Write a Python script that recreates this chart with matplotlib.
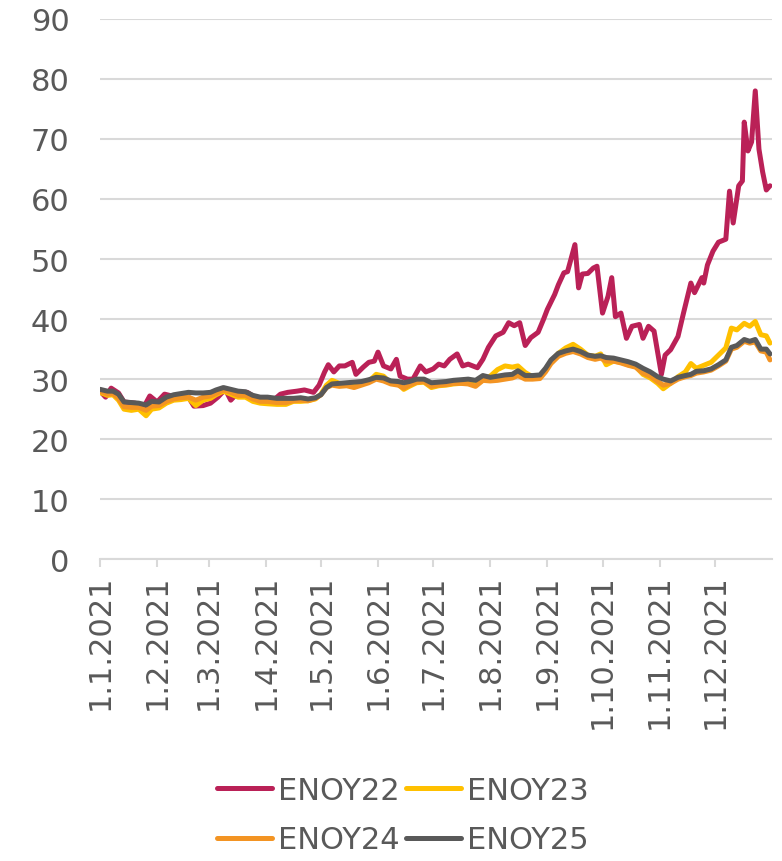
import matplotlib
matplotlib.use("Agg")
import matplotlib.pyplot as plt
import matplotlib.dates as mdates
import matplotlib.ticker as mticker
import pandas as pd

# ENOY22 (own date list, more points around the spikes)
enoy22_dates = [
    "01-01", "01-04", "01-07", "01-11", "01-14", "01-20", "01-25", "01-28",
    "02-01", "02-05", "02-09", "02-14", "02-18", "02-21", "02-26",
    "03-02", "03-06", "03-10", "03-13", "03-17", "03-22", "03-26", "03-31",
    "04-06", "04-09", "04-13", "04-18", "04-22", "04-27", "04-30",
    "05-03", "05-05", "05-08", "05-11", "05-14", "05-18", "05-20", "05-24", "05-27", "05-30",
    "06-01", "06-04", "06-08", "06-11", "06-13", "06-17", "06-20", "06-24", "06-27",
    "07-01", "07-04", "07-07", "07-10", "07-14", "07-17", "07-20", "07-25", "07-28", "07-31",
    "08-04", "08-08", "08-11", "08-14", "08-17", "08-20", "08-23", "08-27", "08-30",
    "09-01", "09-05", "09-07", "09-10", "09-12", "09-16", "09-18", "09-20", "09-23", "09-26", "09-28",
    "10-01", "10-04", "10-06", "10-08", "10-11", "10-14", "10-17", "10-21", "10-23", "10-26", "10-29",
    "11-02", "11-04", "11-07", "11-11", "11-14", "11-18", "11-20", "11-24", "11-25", "11-27", "11-30",
    "12-03", "12-07", "12-09", "12-11", "12-14", "12-16", "12-17", "12-19", "12-21", "12-23",
    "12-25", "12-27", "12-29", "12-31",
]
enoy22 = [
    28.0, 27.0, 28.5, 27.7, 26.2, 26.0, 25.5, 27.2,
    26.2, 27.5, 27.2, 27.4, 27.0, 25.5, 25.6,
    26.0, 27.0, 28.3, 26.5, 27.8, 27.8, 27.0, 26.8,
    26.7, 27.5, 27.8, 28.0, 28.2, 27.8, 29.0,
    31.2, 32.4, 31.2, 32.2, 32.2, 32.8, 30.8, 32.0, 32.8, 33.0,
    34.5, 32.2, 31.7, 33.3, 30.5, 30.0, 30.0, 32.2, 31.2,
    31.7, 32.5, 32.2, 33.3, 34.2, 32.2, 32.5, 31.9, 33.3, 35.3,
    37.2, 37.8, 39.4, 38.9, 39.4, 35.6, 36.9, 37.8, 40.0,
    41.6, 44.1, 45.7, 47.7, 47.9, 52.4, 45.2, 47.5, 47.6, 48.5, 48.8,
    41.0, 43.8, 46.9, 40.4, 41.0, 36.8, 38.8, 39.1, 36.8, 38.8, 38.0,
    30.8, 34.0, 34.9, 37.1, 41.0, 46.0, 44.4, 46.9, 46.0, 49.0, 51.3,
    52.8, 53.3, 61.3, 56.0, 62.2, 63.0, 72.8, 68.0, 69.5, 78.0,
    68.3, 64.5, 61.5, 62.2,
]

# shared dates for the other three contracts
dates = [
    "01-01", "01-05", "01-08", "01-11", "01-14", "01-18", "01-22", "01-26", "01-29",
    "02-02", "02-06", "02-10", "02-14", "02-18", "02-22", "02-26",
    "03-02", "03-05", "03-09", "03-13", "03-17", "03-21", "03-25", "03-29",
    "04-02", "04-07", "04-12", "04-16", "04-20", "04-24", "04-28",
    "05-01", "05-04", "05-07", "05-11", "05-15", "05-19", "05-23", "05-27", "05-31",
    "06-04", "06-08", "06-12", "06-15", "06-18", "06-22", "06-26", "06-30",
    "07-04", "07-08", "07-12", "07-16", "07-20", "07-24", "07-28",
    "08-01", "08-05", "08-09", "08-13", "08-16", "08-20", "08-24", "08-28", "08-31",
    "09-03", "09-07", "09-11", "09-15", "09-19", "09-23", "09-27", "09-30",
    "10-03", "10-07", "10-11", "10-15", "10-19", "10-23", "10-27", "10-31",
    "11-03", "11-07", "11-11", "11-15", "11-18", "11-21", "11-25", "11-29",
    "12-03", "12-07", "12-10", "12-13", "12-17", "12-20", "12-23", "12-26", "12-29", "12-31",
]
enoy25 = [
    28.3, 28.0, 28.0, 27.5, 26.2, 26.1, 26.0, 25.7, 26.3,
    26.2, 27.0, 27.4, 27.6, 27.8, 27.7, 27.7,
    27.8, 28.2, 28.6, 28.3, 28.0, 27.9, 27.3, 27.0,
    27.0, 26.8, 26.8, 26.8, 26.9, 26.7, 26.9,
    27.4, 28.6, 29.2, 29.3, 29.4, 29.5, 29.6, 29.9, 30.3,
    30.2, 29.7, 29.6, 29.4, 29.6, 30.0, 30.0, 29.4,
    29.5, 29.6, 29.8, 29.9, 30.0, 29.8, 30.6,
    30.3, 30.5, 30.7, 30.8, 31.4, 30.6, 30.6, 30.7, 31.8,
    33.2, 34.3, 34.7, 35.0, 34.6, 34.0, 33.8, 33.9,
    33.6, 33.5, 33.2, 32.9, 32.5, 31.8, 31.2, 30.4,
    30.0, 29.7, 30.3, 30.6, 30.8, 31.3, 31.4, 31.7,
    32.4, 33.2, 35.3, 35.6, 36.6, 36.3, 36.6, 35.0, 35.0, 34.2,
]
enoy24 = [
    28.0, 27.5, 27.6, 26.8, 25.4, 25.3, 25.3, 24.8, 25.5,
    25.6, 26.3, 26.7, 26.9, 27.0, 26.5, 27.0,
    27.2, 27.6, 28.2, 27.8, 27.3, 27.3, 26.7, 26.3,
    26.3, 26.1, 26.1, 26.4, 26.5, 26.4, 26.8,
    27.4, 28.6, 29.0, 28.8, 28.9, 28.6, 29.0, 29.4, 30.0,
    29.7, 29.2, 29.0, 28.5, 29.0, 29.5, 29.6, 28.8,
    29.0, 29.1, 29.3, 29.3, 29.2, 28.8, 29.8,
    29.7, 29.8, 30.0, 30.2, 30.6, 30.0, 30.0, 30.1, 31.2,
    32.6, 33.8, 34.3, 34.6, 34.2, 33.6, 33.3, 33.5,
    33.0, 33.0, 32.7, 32.3, 32.0, 31.0, 30.5, 29.6,
    29.0, 29.3, 30.0, 30.4, 30.6, 31.0, 31.2, 31.5,
    32.2, 33.0, 35.0, 35.3, 36.3, 36.0, 36.2, 34.7, 34.5, 33.2,
]
enoy23 = [
    27.8, 27.3, 27.4, 26.5, 25.0, 24.8, 25.0, 23.9, 25.0,
    25.2, 26.0, 26.5, 26.6, 26.8, 25.6, 26.5,
    26.8, 27.4, 28.0, 27.5, 27.0, 27.0, 26.3, 26.0,
    25.9, 25.8, 25.8, 26.3, 26.3, 26.4, 26.7,
    27.5, 29.0, 29.8, 29.3, 29.2, 29.0, 29.2, 29.6, 30.8,
    30.5, 29.3, 29.2, 28.3, 28.8, 29.4, 29.5, 28.6,
    28.9, 29.0, 29.2, 29.3, 29.4, 29.0, 29.9,
    30.5, 31.6, 32.2, 32.0, 32.2, 31.1, 30.4, 30.5, 31.5,
    33.0, 34.3, 35.2, 35.8, 35.0, 34.0, 33.8, 34.2,
    32.4, 33.0, 32.8, 32.4, 32.1, 30.8, 30.2, 29.3,
    28.4, 29.3, 30.4, 31.2, 32.6, 31.8, 32.3, 32.8,
    34.0, 35.2, 38.5, 38.2, 39.3, 38.8, 39.6, 37.4, 37.2, 36.0,
]

labels = ["ENOY22", "ENOY23", "ENOY24", "ENOY25"]
colors = ["#BA2157", "#FFC000", "#F39423", "#595959"]

text_color = "#595959"
grid_color = "#D9D9D9"

plt.rcParams["font.family"] = ["DejaVu Sans"]

fig = plt.figure(figsize=(7.82, 8.62), dpi=100)
ax = fig.add_axes([0.128, 0.350, 0.859, 0.627])

def to_dt(lst):
    return pd.to_datetime(["2021-" + d for d in lst])

series = [
    (to_dt(enoy22_dates), enoy22),
    (to_dt(dates), enoy23),
    (to_dt(dates), enoy24),
    (to_dt(dates), enoy25),
]
lines = []
for (x, y), lab, col in zip(series, labels, colors):
    ln, = ax.plot(x, y, color=col, lw=3.6, label=lab,
                  solid_joinstyle="round", solid_capstyle="round")
    lines.append(ln)

ax.set_ylim(0, 90)
ax.set_yticks(range(0, 91, 10))
ax.set_xlim(pd.Timestamp("2021-01-01"), pd.Timestamp("2022-01-01"))

month_ticks = pd.date_range("2021-01-01", "2021-12-01", freq="MS")
ax.set_xticks(month_ticks)
ax.xaxis.set_major_formatter(mticker.FuncFormatter(
    lambda v, pos: "{d.day}.{d.month}.{d.year}".format(d=mdates.num2date(v))))

ax.grid(axis="y", color=grid_color, lw=1.5)
ax.set_axisbelow(True)
for s in ["left", "right", "top"]:
    ax.spines[s].set_visible(False)
ax.spines["bottom"].set_color(grid_color)
ax.spines["bottom"].set_linewidth(1.5)

ax.tick_params(axis="y", length=0, pad=22, labelsize=22, labelcolor=text_color)
ax.tick_params(axis="x", length=6, width=1.5, color=grid_color, pad=4,
               labelsize=22, labelcolor=text_color, labelrotation=90)

# legend filled row by row: 22 23 / 24 25
order = [0, 2, 1, 3]
fig.legend([lines[i] for i in order], [labels[i] for i in order],
           loc="upper center", bbox_to_anchor=(0.515, 0.099), ncol=2,
           frameon=False, fontsize=22, labelcolor=text_color,
           handlelength=1.8, handletextpad=0.2, columnspacing=0.2,
           labelspacing=0.68, borderaxespad=0, borderpad=0)

fig.savefig("out.png", dpi=100)
